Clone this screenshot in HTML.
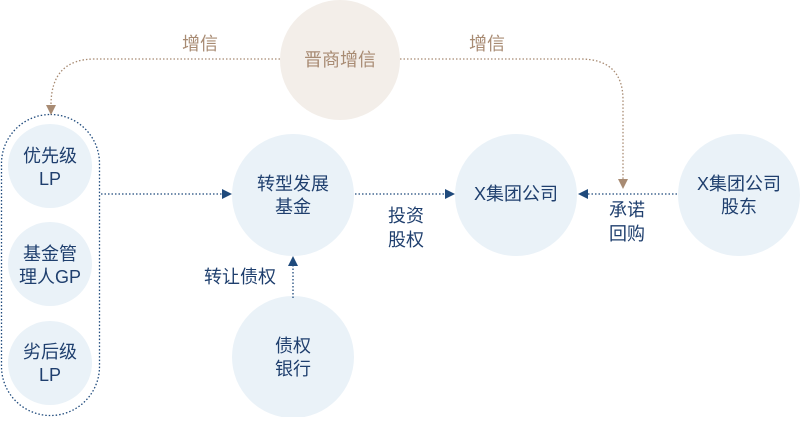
<!DOCTYPE html>
<html><head><meta charset="utf-8"><style>
body{margin:0;background:#fff;}
svg text{font-family:"Liberation Sans","Noto Sans CJK SC",sans-serif;font-size:18px;}
</style></head><body>
<svg width="800" height="417" viewBox="0 0 800 417" xmlns="http://www.w3.org/2000/svg">
<circle cx="340" cy="60" r="60" fill="#f3eee9"/>
<circle cx="50" cy="166" r="42" fill="#eaf2f8"/>
<circle cx="50" cy="264" r="42" fill="#eaf2f8"/>
<circle cx="50" cy="363" r="42" fill="#eaf2f8"/>
<circle cx="293" cy="195" r="61" fill="#eaf2f8"/>
<circle cx="293" cy="357" r="61" fill="#eaf2f8"/>
<circle cx="516" cy="195" r="61" fill="#eaf2f8"/>
<circle cx="739" cy="195" r="61" fill="#eaf2f8"/>
<rect x="1.5" y="114.5" width="98" height="301" rx="49" fill="none" stroke="#1f4a7c" stroke-width="1.3" stroke-dasharray="1.5 2"/>
<g fill="none" stroke="#a88b73" stroke-width="1.3" stroke-dasharray="1.5 2">
<path d="M280 59 H95 Q51 59 51 105"/>
<path d="M400 59 H580 Q623 59 623 100 V180"/>
</g>
<polygon points="46,105 56,105 51,115" fill="#a88b73"/>
<polygon points="618,179 628,179 623,189" fill="#a88b73"/>
<g fill="none" stroke="#1f4a7c" stroke-width="1.3" stroke-dasharray="1.5 2">
<path d="M101 194 H224"/>
<path d="M355 194 H446"/>
<path d="M677 194 H588"/>
<path d="M293 298 V265"/>
</g>
<polygon points="222,189 232,194 222,199" fill="#1f4a7c"/>
<polygon points="445,189 455,194 445,199" fill="#1f4a7c"/>
<polygon points="588,189 578,194 588,199" fill="#1f4a7c"/>
<polygon points="288,266 293,256 298,266" fill="#1f4a7c"/>
<g fill="#1f3f6e" text-anchor="middle">
<text x="340" y="66" fill="#a88b73">晋商增信</text>
<text x="200" y="50" fill="#a88b73">增信</text>
<text x="487" y="50" fill="#a88b73">增信</text>
<text x="50" y="162">优先级</text><text x="50" y="185">LP</text>
<text x="50" y="260">基金管</text><text x="50" y="283">理人GP</text>
<text x="50" y="358">劣后级</text><text x="50" y="381">LP</text>
<text x="293" y="190">转型发展</text><text x="293" y="213">基金</text>
<text x="293" y="352">债权</text><text x="293" y="375">银行</text>
<text x="516" y="200">X集团公司</text>
<text x="739" y="190">X集团公司</text><text x="739" y="213">股东</text>
<text x="406" y="222">投资</text><text x="406" y="246">股权</text>
<text x="627" y="216">承诺</text><text x="627" y="240">回购</text>
<text x="240" y="283">转让债权</text>
</g>
</svg>
</body></html>
